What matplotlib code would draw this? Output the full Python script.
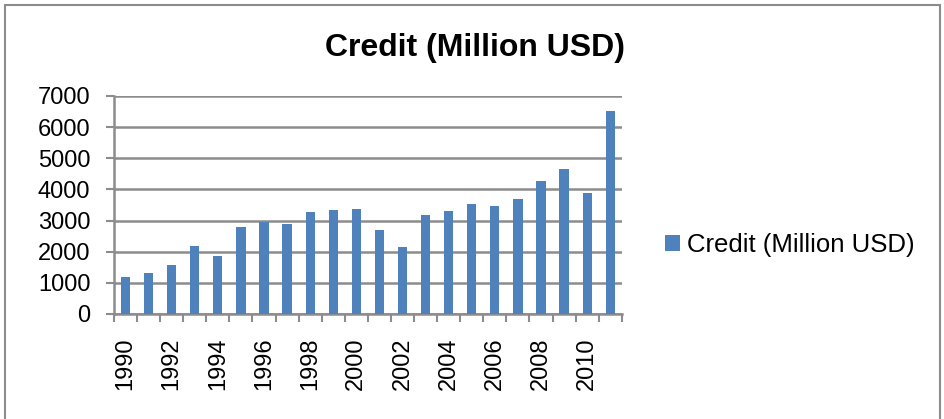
import numpy as np
import matplotlib.pyplot as plt
from matplotlib.patches import Rectangle

plt.rcParams['font.family'] = ['Liberation Sans', 'DejaVu Sans']

# Credit in million USD
years = list(range(1990, 2012))
credit = [1200, 1320, 1570, 2190, 1860, 2790, 2960, 2890, 3260, 3340, 3370,
          2710, 2150, 3180, 3320, 3520, 3480, 3700, 4280, 4670, 3880, 6510]
series_name = 'Credit (Million USD)'

fig = plt.figure(figsize=(9.45, 4.19), dpi=100)
ax = fig.add_axes([0.1206, 0.2506, 0.5374, 0.5203])

x = np.arange(len(years))
ax.bar(x, credit, width=0.4, color='#4F81BD', label=series_name, zorder=3)

ax.set_xlim(-0.5, len(years) - 0.5)
ax.set_ylim(0, 7000)
ax.set_yticks(np.arange(0, 7001, 1000))
ax.grid(axis='y', color='#8C8C8C', linewidth=1.8, zorder=0)

# tick marks between categories, labels on every other year
ax.set_xticks(np.arange(-0.5, len(years), 1))
ax.set_xticklabels([])
ax.set_xticks(x[::2], minor=True)
ax.set_xticklabels([str(y) for y in years[::2]], minor=True, rotation=90, fontsize=17)
ax.tick_params(axis='x', which='major', length=6, width=1.5, color='#8C8C8C', direction='out')
ax.tick_params(axis='x', which='minor', length=0, pad=17)
ax.tick_params(axis='y', length=6, width=1.5, color='#8C8C8C', labelsize=17, pad=11)

for s in ['top', 'right']:
    ax.spines[s].set_visible(False)
for s in ['left', 'bottom']:
    ax.spines[s].set_color('#8C8C8C')
    ax.spines[s].set_linewidth(1.8)

fig.text(0.503, 0.885, series_name, ha='center', va='center', fontsize=23, fontweight='bold')

fig.legend(loc='center left', bbox_to_anchor=(0.679, 0.415), frameon=False,
           fontsize=18.5, handlelength=0.6, handleheight=0.6, handletextpad=0.25)

fig.patches.append(Rectangle((0.005, -0.01), 0.99, 0.998, transform=fig.transFigure,
                             fill=False, edgecolor='#8C8C8C', linewidth=1.5))

plt.savefig('out.png', dpi=100)
